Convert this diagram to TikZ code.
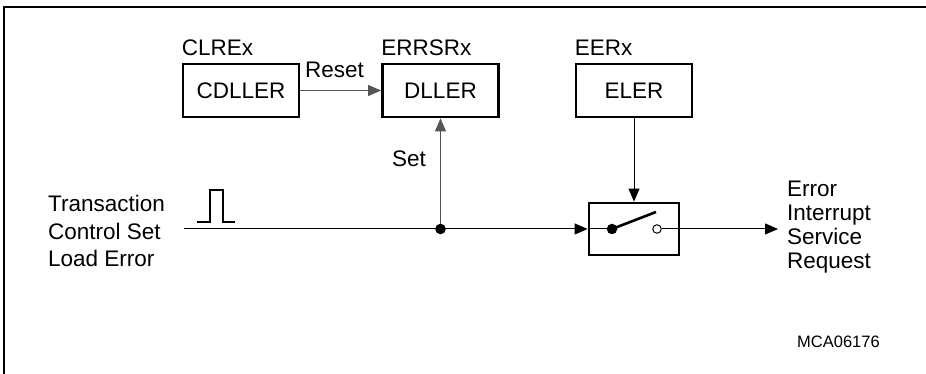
\documentclass[tikz,border=0pt]{standalone}
\usepackage{fontspec}
\setmainfont{Liberation Sans}
\usetikzlibrary{arrows.meta, positioning}
\definecolor{wire}{HTML}{555555}

\begin{document}
\begin{tikzpicture}[x=1pt, y=1pt, font=\fontsize{22.5}{27}\selectfont,
    reg/.style={draw, line width=2.8pt, minimum width=116pt, minimum height=53pt, inner sep=0pt},
    lbl/.style={inner sep=0pt, anchor=base west},
    sig/.style={line width=1pt, -{Triangle[length=13pt, width=11pt]}}]
  \useasboundingbox (0,0) rectangle (926,374);
  % frame
  \draw[line width=1.5pt] (926,367) -- (4,367) -- (4,0);
  % registers
  \node[reg] (cdller) at (241,283.5) {CDLLER};
  \node[reg] (dller) at (440.5,283.5) {DLLER};
  \node[reg] (eler) at (634,283.5) {ELER};
  \node[lbl, above right=7pt and 0pt of cdller.north west, anchor=base west] (clrex) {CLREx};
  \node[lbl, above right=7pt and 0pt of dller.north west, anchor=base west] (errsrx) {ERRSRx};
  \node[lbl, above right=7pt and 0pt of eler.north west, anchor=base west] (eerx) {EERx};
  \node[lbl] (reset) at (305,296) {Reset};
  \node[lbl] (set) at (392,207) {Set};
  % switch
  \node[draw, line width=2.8pt, minimum width=90pt, minimum height=52pt] (switch) at (634,145) {};
  \node[circle, fill, inner sep=0pt, minimum size=10.5pt] (swin) at (612,145) {};
  \node[circle, draw, fill=white, line width=1pt, inner sep=0pt, minimum size=8.5pt] (swout) at (657,145) {};
  \coordinate (lever) at (656,162);
  \draw[line width=2.6pt] (swin.center) -- (lever);
  % input / output
  \node[lbl, align=left, font=\fontsize{22.5}{27.5}\selectfont] (tcs) at (48,107) {Transaction\\Control Set\\Load Error};
  \node[lbl, align=left, font=\fontsize{22.5}{24}\selectfont] (esr) at (787,105) {Error\\Interrupt\\Service\\Request};
  \coordinate (in) at (184,145);
  \coordinate (out) at (778,145);
  \draw[line width=2.2pt] (197,152) -- (210,152) -- (210,184) -- (223,184) -- (223,152) -- (235,152);
  % connectors
  \draw[sig, wire] (cdller) -- (dller);
  \coordinate (junc) at (440.5,145);
  \draw[sig, wire] (junc) -- (dller.south);
  \draw[line width=1pt] (in) -- (junc);
  \draw[sig] (junc) -- (switch.west);
  \draw[line width=1pt] (switch.west) -- (swin);
  \draw[sig] (eler) -- (switch);
  \draw[sig] (swout) -- (out);
  \fill (junc) circle (5.3pt);
  \node[lbl, font=\fontsize{16.5}{19}\selectfont] (fig) at (797,26) {MCA06176};
\end{tikzpicture}
\end{document}
